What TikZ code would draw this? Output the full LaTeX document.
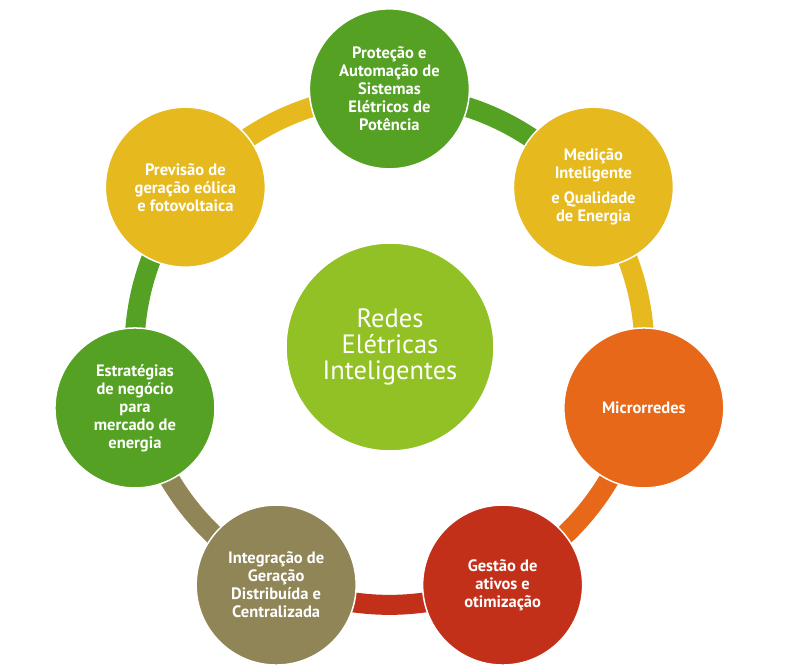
\documentclass[tikz,border=0pt]{standalone}
\usepackage{fontspec}
\setmainfont{PT Sans}
\usetikzlibrary{calc}
\definecolor{cgreen}{HTML}{54A124}
\definecolor{cyellow}{HTML}{E6B91E}
\definecolor{corange}{HTML}{E8681A}
\definecolor{cred}{HTML}{C2301A}
\definecolor{colive}{HTML}{8F8556}
\definecolor{clight}{HTML}{92C126}
\tikzset{
  outer/.style={circle, draw=white, line width=1.5pt, inner sep=0pt,
    minimum size=160pt, text=white, align=center,
    font=\fontsize{16.5}{18}\selectfont\bfseries},
  hub/.style={circle, draw=white, line width=1.5pt, inner sep=0pt,
    minimum size=208pt, text=white, align=center, fill=clight,
    font=\fontsize{26.5}{26}\selectfont},
  ring/.style={line width=20pt}
}
\begin{document}
\begin{tikzpicture}[x=1pt,y=1pt]
\useasboundingbox (0,0) rectangle (788,671);
\coordinate (C) at (389.4,321.1);
% node positions
\coordinate (q1) at ($(C)+(90:261)$);
\coordinate (q2) at ($(C)+(38.571:261)$);
\coordinate (q3) at ($(C)+(-12.857:261)$);
\coordinate (q4) at ($(C)+(-64.286:261)$);
\coordinate (q5) at ($(C)+(-115.714:261)$);
\coordinate (q6) at ($(C)+(-167.143:261)$);
\coordinate (q7) at ($(C)+(-218.571:261)$);
% arcs
\coordinate (s1) at ($(C)!0.977!(q1)$);
\coordinate (s2) at ($(C)!0.977!(q2)$);
\coordinate (s3) at ($(C)!0.977!(q3)$);
\coordinate (s4) at ($(C)!0.977!(q4)$);
\coordinate (s5) at ($(C)!0.977!(q5)$);
\coordinate (s6) at ($(C)!0.977!(q6)$);
\coordinate (s7) at ($(C)!0.977!(q7)$);
\draw[ring, cgreen]  (s1) arc[start angle=90, end angle=38.571, radius=255];
\draw[ring, cyellow] (s2) arc[start angle=38.571, end angle=-12.857, radius=255];
\draw[ring, corange] (s3) arc[start angle=-12.857, end angle=-64.286, radius=255];
\draw[ring, cred]    (s4) arc[start angle=-64.286, end angle=-115.714, radius=255];
\draw[ring, colive]  (s5) arc[start angle=-115.714, end angle=-167.143, radius=255];
\draw[ring, cgreen]  (s6) arc[start angle=-167.143, end angle=-218.571, radius=255];
\draw[ring, cyellow] (s7) arc[start angle=-218.571, end angle=-270, radius=255];
% circles
\node[hub] (hub) at (390,324) {Redes\\Elétricas\\Inteligentes};
\node[outer, fill=cgreen]  (p1) at (q1) {Proteção e\\Automação de\\Sistemas\\Elétricos de\\Potência};
\node[outer, fill=cyellow] (p2) at (q2) {Medição\\Inteligente\\[7pt]e Qualidade\\de Energia};
\node[outer, fill=corange] (p3) at (q3) {Microrredes};
\node[outer, fill=cred]    (p4) at (q4) {Gestão de\\ativos e\\otimização};
\node[outer, fill=colive]  (p5) at (q5) {Integração de\\Geração\\Distribuída e\\Centralizada};
\node[outer, fill=cgreen]  (p6) at (q6) {Estratégias\\de negócio\\para\\mercado de\\energia};
\node[outer, fill=cyellow] (p7) at (q7) {Previsão de\\geração eólica\\e fotovoltaica};
\end{tikzpicture}
\end{document}
